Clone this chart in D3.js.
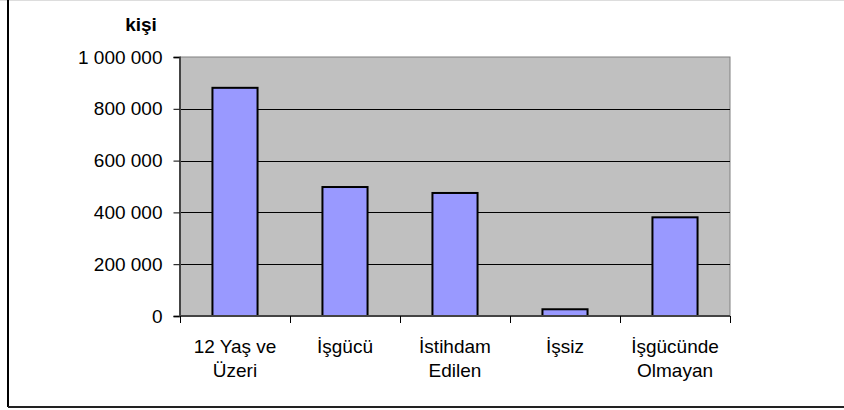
<!DOCTYPE html>
<html>
<head>
<meta charset="utf-8">
<script src="https://cdn.jsdelivr.net/npm/d3@7"></script>
<style>
  body { margin: 0; background: #fff; }
  svg { display: block; font-family: "Liberation Sans", Arial, sans-serif; }
</style>
</head>
<body>
<div id="chart"></div>
<script>
const categories = [["12 Yaş ve", "Üzeri"], ["İşgücü"], ["İstihdam", "Edilen"], ["İşsiz"], ["İşgücünde", "Olmayan"]];
const values = [881000, 498000, 475000, 26000, 381000];
const yTicks = [0, 200000, 400000, 600000, 800000, 1000000];
const yTitle = "kişi";

const width = 844, height = 410;
const plot = { left: 180, right: 730, top: 57, bottom: 316 };
const fontSize = 19;

const svg = d3.select("#chart").append("svg")
  .attr("width", width)
  .attr("height", height);

// outer chart frame
svg.append("line").attr("x1", 0).attr("x2", width).attr("y1", 0.5).attr("y2", 0.5)
  .attr("stroke", "#ddd");
svg.append("line").attr("x1", 8).attr("x2", 8).attr("y1", 0).attr("y2", 407)
  .attr("stroke", "#000").attr("stroke-width", 2);
svg.append("line").attr("x1", 8).attr("x2", width).attr("y1", 407).attr("y2", 407)
  .attr("stroke", "#222").attr("stroke-width", 2);

const x = d3.scaleBand()
  .domain(d3.range(categories.length))
  .range([plot.left, plot.right])
  .paddingInner(0.59)
  .paddingOuter(0.295);

const y = d3.scaleLinear()
  .domain([0, 1000000])
  .range([plot.bottom, plot.top]);

// plot area
svg.append("rect")
  .attr("x", plot.left).attr("y", plot.top)
  .attr("width", plot.right - plot.left).attr("height", plot.bottom - plot.top)
  .attr("fill", "#c0c0c0")
  .attr("stroke", "#808080");

// gridlines
svg.append("g")
  .selectAll("line")
  .data(yTicks.filter(d => d > 0 && d < 1000000))
  .enter().append("line")
  .attr("x1", plot.left).attr("x2", plot.right)
  .attr("y1", d => Math.round(y(d)) + 0.5).attr("y2", d => Math.round(y(d)) + 0.5)
  .attr("stroke", "#000");

// bars
svg.append("g")
  .selectAll("rect")
  .data(values)
  .enter().append("rect")
  .attr("x", (d, i) => x(i))
  .attr("y", d => y(d))
  .attr("width", x.bandwidth())
  .attr("height", d => y(0) - y(d))
  .attr("fill", "#9999ff")
  .attr("stroke", "#000")
  .attr("stroke-width", 2);

// y axis
const fmt = d => d3.format(",")(d).replace(/,/g, " ");
const yAxis = svg.append("g")
  .attr("transform", `translate(${plot.left - 0.5},0)`)
  .call(d3.axisLeft(y).tickValues(yTicks).tickSize(6).tickPadding(11).tickFormat(fmt));
yAxis.attr("font-size", fontSize).attr("font-family", "Liberation Sans, Arial, sans-serif");
yAxis.select(".domain").attr("stroke", "#444").attr("stroke-width", 2);
yAxis.selectAll(".tick line").attr("stroke", "#000");
yAxis.selectAll("text").attr("fill", "#000");

// x axis
const xEdges = d3.range(categories.length + 1).map(i => plot.left + i * (plot.right - plot.left) / categories.length);
const xAxis = svg.append("g").attr("font-size", fontSize);
xAxis.append("line")
  .attr("x1", plot.left).attr("x2", plot.right)
  .attr("y1", plot.bottom).attr("y2", plot.bottom)
  .attr("stroke", "#444").attr("stroke-width", 2);
xAxis.selectAll(".xt")
  .data(xEdges)
  .enter().append("line")
  .attr("x1", d => Math.round(d) + 0.5).attr("x2", d => Math.round(d) + 0.5)
  .attr("y1", plot.bottom).attr("y2", plot.bottom + 7)
  .attr("stroke", "#000");

xAxis.selectAll(".xl")
  .data(categories)
  .enter().append("text")
  .attr("x", (d, i) => x(i) + x.bandwidth() / 2)
  .attr("y", 353)
  .attr("text-anchor", "middle")
  .selectAll("tspan")
  .data(d => d)
  .enter().append("tspan")
  .attr("x", function () { return this.parentNode.getAttribute("x"); })
  .attr("dy", (d, i) => i === 0 ? 0 : 24)
  .text(d => d);

// axis title
svg.append("text")
  .attr("x", 141)
  .attr("y", 31)
  .attr("text-anchor", "middle")
  .attr("font-size", fontSize)
  .attr("font-weight", "bold")
  .text(yTitle);
</script>
</body>
</html>
